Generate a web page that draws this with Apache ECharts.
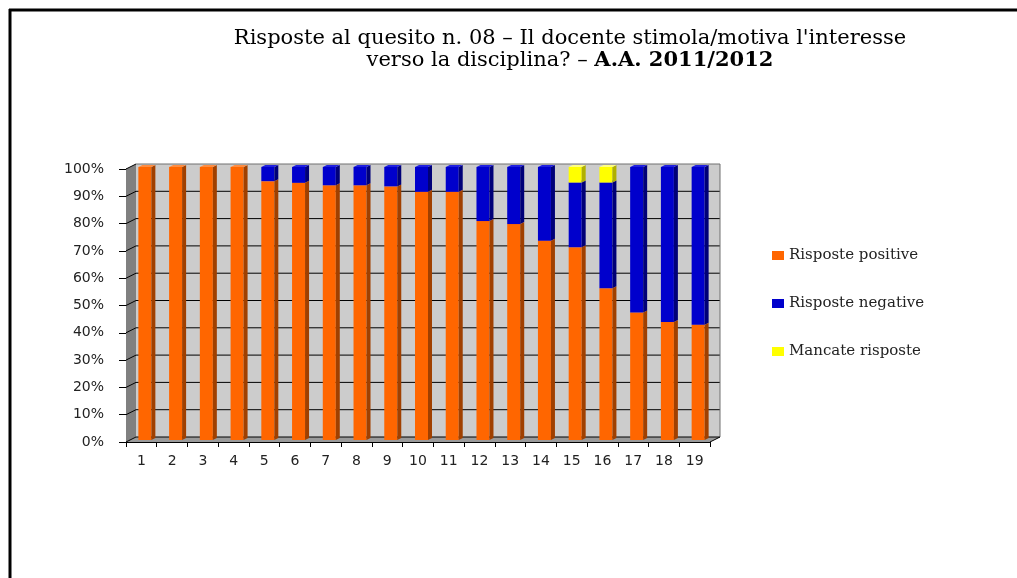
<!DOCTYPE html>
<html>
<head>
<meta charset="utf-8">
<script src="https://cdn.jsdelivr.net/npm/echarts@6/dist/echarts.min.js"></script>
<style>html,body{margin:0;padding:0;background:#fff}#c{width:1017px;height:578px}</style>
</head>
<body>
<div id="c"></div>
<script>
const categories = ['1','2','3','4','5','6','7','8','9','10','11','12','13','14','15','16','17','18','19'];
const positive = [100,100,100,100,94.8,94.2,93.3,93.3,92.9,90.9,90.9,80.2,79.1,73.0,70.6,55.6,46.7,43.2,42.2];
const negative = [0,0,0,0,5.2,5.8,6.7,6.7,7.1,9.1,9.1,19.8,20.9,27.0,23.7,38.7,53.3,56.8,57.8];
const missing = [0,0,0,0,0,0,0,0,0,0,0,0,0,0,5.7,5.7,0,0,0];
const seriesNames = ['Risposte positive','Risposte negative','Mancate risposte'];
const yTicks = [0,10,20,30,40,50,60,70,80,90,100];

const stacks = [positive, negative, missing];
const faceColors = [
  {front:'#ff6600', side:'#a04000', top:'#ff8c40'},
  {front:'#0000cc', side:'#000078', top:'#2020e0'},
  {front:'#ffff00', side:'#b0b000', top:'#ffff80'}
];
const DX = 10, DY = -5;      // wall depth
const BX = 3.5, BY = -2;     // bar offset inside depth
const BW = 13, BD = 4, BDY = -2; // bar width & depth

function wallsRender(params, api) {
  const cs = params.coordSys;
  const L = cs.x, R = cs.x + cs.width, T = cs.y, B = cs.y + cs.height;
  const children = [];
  children.push({type:'polygon', shape:{points:[[L+DX,T+DY],[R+DX,T+DY],[R+DX,B+DY],[L+DX,B+DY]]}, style:{fill:'#cccccc'}});
  children.push({type:'polygon', shape:{points:[[L,T],[L+DX,T+DY],[L+DX,B+DY],[L,B]]}, style:{fill:'#808080'}});
  children.push({type:'polygon', shape:{points:[[L,B],[R,B],[R+DX,B+DY],[L+DX,B+DY]]}, style:{fill:'#9a9a9a'}});
  yTicks.forEach(function(t){
    const y = api.coord([0, t])[1];
    const col = (t === 100) ? '#707070' : '#000';
    children.push({type:'line', shape:{x1:L+DX, y1:y+DY, x2:R+DX, y2:y+DY}, style:{stroke:col, lineWidth:1}});
    children.push({type:'line', shape:{x1:L, y1:y, x2:L+DX, y2:y+DY}, style:{stroke:'#000', lineWidth:1}});
  });
  children.push({type:'line', shape:{x1:R+DX, y1:T+DY, x2:R+DX, y2:B+DY}, style:{stroke:'#707070', lineWidth:1}});
  children.push({type:'line', shape:{x1:R, y1:B, x2:R+DX, y2:B+DY}, style:{stroke:'#000', lineWidth:1}});
  return {type:'group', children: children};
}

function makeBarRender(k) {
  return function(params, api) {
    const i = api.value(0);
    const v = api.value(1);
    if (!v) return null;
    let base = 0;
    for (let j = 0; j < k; j++) base += stacks[j][i];
    const top = base + v;
    const pB = api.coord([i, base]);
    const pT = api.coord([i, top]);
    const x0 = pB[0] + BX - BW/2, x1 = x0 + BW;
    const yb = pB[1] + BY, yt = pT[1] + BY;
    const c = faceColors[k];
    return {type:'group', children:[
      {type:'rect', shape:{x:x0, y:yt, width:BW, height:yb-yt}, style:{fill:c.front}},
      {type:'polygon', shape:{points:[[x1,yt],[x1+BD,yt+BDY],[x1+BD,yb+BDY],[x1,yb]]}, style:{fill:c.side}},
      {type:'polygon', shape:{points:[[x0,yt],[x0+BD,yt+BDY],[x1+BD,yt+BDY],[x1,yt]]}, style:{fill:c.top}}
    ]};
  };
}

const chart = echarts.init(document.getElementById('c'), null, {renderer:'canvas'});
const series = [{
  type:'custom', name:'walls', silent:true, z:1,
  renderItem: wallsRender, data:[[0,0]], encode:{x:0,y:1}
}];
stacks.forEach(function(arr, k){
  series.push({
    type:'custom', name: seriesNames[k], z: 2 + k,
    itemStyle:{color: faceColors[k].front},
    renderItem: makeBarRender(k),
    encode:{x:0, y:1},
    data: arr.map(function(v, i){ return [i, v]; })
  });
});

chart.setOption({
  animation:false,
  backgroundColor:'#ffffff',
  title:{
    text:'Risposte al quesito n. 08 – Il docente stimola/motiva l\'interesse\nverso la disciplina? – {b|A.A. 2011/2012}',
    left:565, top:23, textAlign:'center',
    textStyle:{fontFamily:'DejaVu Serif', fontSize:21, fontWeight:'normal', color:'#000', lineHeight:22,
      rich:{b:{fontFamily:'DejaVu Serif', fontSize:21, fontWeight:'bold', color:'#000', lineHeight:22}}}
  },
  graphic:[
    {type:'line', shape:{x1:9, y1:10, x2:1017, y2:10}, style:{stroke:'#000', lineWidth:3}},
    {type:'line', shape:{x1:10, y1:9, x2:10, y2:578}, style:{stroke:'#000', lineWidth:3}}
  ],
  legend:{
    data: seriesNames, orient:'vertical', left:767, top:243, itemGap:33,
    itemWidth:12, itemHeight:9, icon:'rect', selectedMode:false,
    textStyle:{fontFamily:'DejaVu Serif', fontSize:15, color:'#222'}
  },
  grid:{left:126, right:307, top:169, bottom:136},
  xAxis:{
    type:'category', data: categories, boundaryGap:true,
    axisLine:{show:true, lineStyle:{color:'#000', width:1}},
    axisTick:{show:true, length:5, alignWithLabel:false, lineStyle:{color:'#000'}},
    axisLabel:{margin:12, fontFamily:'DejaVu Sans', fontSize:14, color:'#222'},
    splitLine:{show:false}
  },
  yAxis:{
    type:'value', min:0, max:100, interval:10,
    axisLine:{show:true, lineStyle:{color:'#000', width:1}},
    axisTick:{show:true, length:7, lineStyle:{color:'#000'}},
    axisLabel:{formatter:'{value}%', margin:22, fontFamily:'DejaVu Sans', fontSize:14, color:'#222'},
    splitLine:{show:false}
  },
  series: series
});
</script>
</body>
</html>
